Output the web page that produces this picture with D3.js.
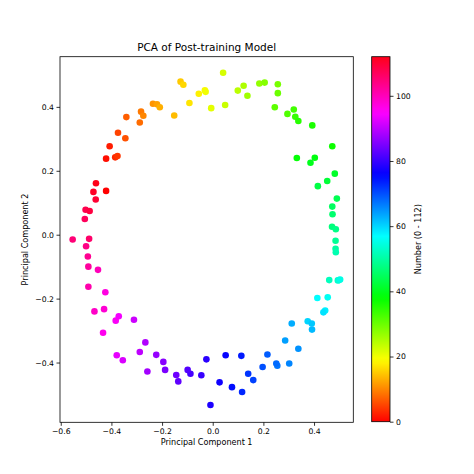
<!DOCTYPE html>
<html>
<head>
<meta charset="utf-8">
<script src="https://cdn.jsdelivr.net/npm/d3@7"></script>
<style>
body { margin: 0; background: #fff; }
text { font-family: "DejaVu Sans", sans-serif; fill: #000; }
</style>
</head>
<body>
<div id="chart"></div>
<script>
// number of each point (colour) and its two principal components
const numbers = [
  0, 1, 2, 3, 4, 5, 6, 7, 8, 9, 10, 11, 12, 13, 14, 15, 16, 17, 18, 19,
  20, 21, 22, 23, 24, 25, 26, 27, 28, 29, 30, 31, 32, 33, 34, 35, 36, 37, 38, 39,
  40, 41, 42, 43, 44, 45, 46, 47, 48, 49, 50, 51, 52, 53, 54, 55, 56, 57, 58, 59,
  60, 61, 62, 63, 64, 65, 66, 67, 68, 69, 70, 71, 72, 73, 74, 75, 76, 77, 78, 79,
  80, 81, 82, 83, 84, 85, 86, 87, 88, 89, 90, 91, 92, 93, 94, 95, 96, 97, 98, 99,
  100, 101, 102, 103, 104, 105, 106, 107, 108, 109, 110, 111, 112
];
const pc1 = [
  -0.421, -0.421, -0.407, -0.385, -0.376, -0.374, -0.345, -0.341, -0.288, -0.283,
  -0.274, -0.236, -0.220, -0.209, -0.152, -0.127, -0.116, -0.092, -0.055, -0.031,
  -0.028, -0.006, 0.041, 0.049, 0.099, 0.122, 0.137, 0.184, 0.205, 0.257,
  0.257, 0.245, 0.295, 0.320, 0.326, 0.338, 0.393, 0.472, 0.332, 0.403,
  0.386, 0.482, 0.452, 0.415, 0.490, 0.472, 0.473, 0.471, 0.486, 0.485,
  0.485, 0.486, 0.460, 0.494, 0.499, 0.503, 0.454, 0.413, 0.444, 0.437,
  0.375, 0.391, 0.392, 0.312, 0.286, 0.338, 0.302, 0.255, 0.251, 0.216,
  0.197, 0.160, 0.140, 0.116, 0.113, 0.076, 0.051, 0.027, -0.009, -0.025,
  -0.045, -0.088, -0.099, -0.136, -0.144, -0.188, -0.195, -0.223, -0.258, -0.266,
  -0.288, -0.311, -0.355, -0.379, -0.371, -0.383, -0.433, -0.424, -0.429, -0.467,
  -0.453, -0.491, -0.491, -0.493, -0.500, -0.553, -0.488, -0.505, -0.502, -0.486,
  -0.462, -0.471, -0.461
];
const pc2 = [
  0.137, 0.238, 0.277, 0.242, 0.246, 0.319, 0.302, 0.368, 0.351, 0.385,
  0.372, 0.410, 0.408, 0.399, 0.373, 0.479, 0.469, 0.412, 0.441, 0.452,
  0.447, 0.396, 0.507, 0.406, 0.451, 0.466, 0.435, 0.473, 0.476, 0.471,
  0.443, 0.399, 0.378, 0.392, 0.369, 0.356, 0.342, 0.277, 0.240, 0.241,
  0.225, 0.191, 0.168, 0.152, 0.113, 0.088, 0.064, 0.025, 0.017, -0.019,
  -0.044, -0.055, -0.142, -0.143, -0.142, -0.140, -0.196, -0.198, -0.237, -0.243,
  -0.271, -0.278, -0.297, -0.278, -0.331, -0.357, -0.403, -0.410, -0.403, -0.375,
  -0.414, -0.455, -0.435, -0.492, -0.379, -0.477, -0.377, -0.462, -0.533, -0.390,
  -0.440, -0.435, -0.423, -0.459, -0.439, -0.423, -0.398, -0.376, -0.428, -0.337,
  -0.367, -0.266, -0.393, -0.377, -0.255, -0.269, -0.307, -0.180, -0.233, -0.240,
  -0.110, -0.163, -0.100, -0.068, -0.036, -0.015, -0.013, 0.049, 0.078, 0.074,
  0.110, 0.134, 0.161
];
const xTicks = [-0.6, -0.4, -0.2, 0.0, 0.2, 0.4];
const yTicks = [-0.4, -0.2, 0.0, 0.2, 0.4];
const cbarTicks = [0, 20, 40, 60, 80, 100];
const numberRange = [0, 112];

const W = 474, H = 474;
const plot = {left: 60, right: 353.3, top: 56.7, bottom: 422.3};
const cbar = {left: 371.7, right: 390, top: 56.7, bottom: 421.7};

// matplotlib "hsv" colormap, rebuilt from its segment stops
const hsvPos = [0, 0.158730, 0.174603, 0.333333, 0.349206, 0.507937, 0.666667, 0.682540, 0.841270, 0.857143, 1.0];
const hsvRgb = ["rgb(255,0,0)", "rgb(255,239,0)", "rgb(247,255,0)", "rgb(8,255,0)", "rgb(0,255,16)",
  "rgb(0,255,255)", "rgb(0,16,255)", "rgb(8,0,255)", "rgb(247,0,255)", "rgb(255,0,239)", "rgb(255,0,24)"];
const color = d3.scaleLinear()
  .domain(hsvPos.map(p => numberRange[0] + p * (numberRange[1] - numberRange[0])))
  .range(hsvRgb)
  .interpolate(d3.interpolateRgb);

const svg = d3.select("#chart").append("svg")
  .attr("width", W).attr("height", H);

const x = d3.scaleLinear().domain([-0.603, 0.555]).range([plot.left, plot.right]);
const y = d3.scaleLinear().domain([-0.587, 0.557]).range([plot.bottom, plot.top]);

const fmt = d3.format(".1f");

// axes
const xAxis = svg.append("g")
  .attr("transform", "translate(0," + plot.bottom + ")")
  .call(d3.axisBottom(x).tickValues(xTicks).tickSize(3.5).tickPadding(2.5).tickFormat(fmt));
const yAxis = svg.append("g")
  .attr("transform", "translate(" + plot.left + ",0)")
  .call(d3.axisLeft(y).tickValues(yTicks).tickSize(3.5).tickPadding(2.5).tickFormat(fmt));
[xAxis, yAxis].forEach(a => {
  a.select(".domain").remove();
  a.selectAll("line").attr("stroke", "#000").attr("stroke-width", 0.8);
  a.selectAll("text").style("font-size", "7.7px").attr("fill", "#000");
});

// points
svg.append("g").selectAll("circle")
  .data(numbers)
  .enter()
  .append("circle")
  .attr("cx", (d, i) => x(pc1[i]))
  .attr("cy", (d, i) => y(pc2[i]))
  .attr("r", 3.3)
  .attr("fill", d => color(d));

// frame
svg.append("rect")
  .attr("x", plot.left).attr("y", plot.top)
  .attr("width", plot.right - plot.left).attr("height", plot.bottom - plot.top)
  .attr("fill", "none").attr("stroke", "#000").attr("stroke-width", 0.8);

// titles
svg.append("text")
  .attr("x", (plot.left + plot.right) / 2).attr("y", 51)
  .attr("text-anchor", "middle").style("font-size", "10.5px")
  .text("PCA of Post-training Model");
svg.append("text")
  .attr("x", (plot.left + plot.right) / 2).attr("y", 444.5)
  .attr("text-anchor", "middle").style("font-size", "8.1px")
  .text("Principal Component 1");
svg.append("text")
  .attr("transform", "translate(28," + (plot.top + plot.bottom) / 2 + ") rotate(-90)")
  .attr("text-anchor", "middle").style("font-size", "8.1px")
  .text("Principal Component 2");

// colorbar
const grad = svg.append("defs").append("linearGradient")
  .attr("id", "hsvGrad")
  .attr("x1", 0).attr("y1", 1).attr("x2", 0).attr("y2", 0);
grad.selectAll("stop")
  .data(hsvPos)
  .enter()
  .append("stop")
  .attr("offset", d => d)
  .attr("stop-color", (d, i) => hsvRgb[i]);

svg.append("rect")
  .attr("x", cbar.left).attr("y", cbar.top)
  .attr("width", cbar.right - cbar.left).attr("height", cbar.bottom - cbar.top)
  .attr("fill", "url(#hsvGrad)").attr("stroke", "#000").attr("stroke-width", 0.8);

const c = d3.scaleLinear().domain(numberRange).range([cbar.bottom, cbar.top]);
const cAxis = svg.append("g")
  .attr("transform", "translate(" + cbar.right + ",0)")
  .call(d3.axisRight(c).tickValues(cbarTicks).tickSize(3.5).tickPadding(2.5));
cAxis.select(".domain").remove();
cAxis.selectAll("line").attr("stroke", "#000").attr("stroke-width", 0.8);
cAxis.selectAll("text").style("font-size", "7.7px").attr("fill", "#000");

svg.append("text")
  .attr("transform", "translate(421," + (cbar.top + cbar.bottom) / 2 + ") rotate(-90)")
  .attr("text-anchor", "middle").style("font-size", "8.1px")
  .text("Number (0 - 112)");
</script>
</body>
</html>
